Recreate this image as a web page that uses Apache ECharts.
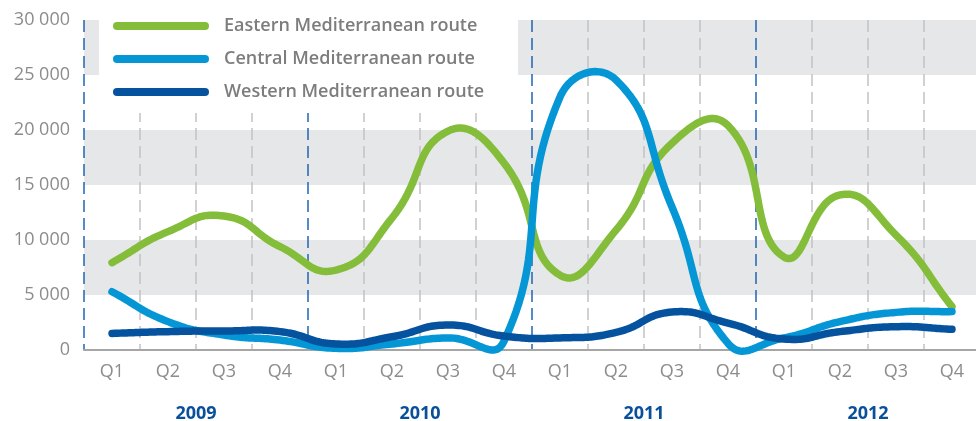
<!DOCTYPE html>
<html>
<head>
<meta charset="utf-8">
<script src="https://cdn.jsdelivr.net/npm/echarts@6/dist/echarts.min.js"></script>
<style>
html,body{margin:0;padding:0;background:#fff;}
#chart{width:976px;height:421px;}
</style>
</head>
<body>
<div id="chart"></div>
<script>
const quarters = ['Q1','Q2','Q3','Q4','Q1','Q2','Q3','Q4','Q1','Q2','Q3','Q4','Q1','Q2','Q3','Q4'];
const years = ['2009','2010','2011','2012'];
const seriesNames = ['Eastern Mediterranean route','Central Mediterranean route','Western Mediterranean route'];
const eastern = [7940, 10760, 12180, 9400, 7270, 12000, 19900, 17000, 6800, 10900, 18800, 20400, 8450, 14100, 10450, 3940];
const central = [5300, 2580, 1360, 900, 150, 550, 1100, 800, 23000, 24550, 13000, 600, 1100, 2580, 3420, 3490];
const western = [1510, 1670, 1730, 1670, 550, 1200, 2270, 1270, 1100, 1600, 3450, 2450, 1000, 1670, 2120, 1880];
const yMin = 0, yMax = 30000, yStep = 5000;

const FONT = '"Open Sans", sans-serif';
const colors = ['#84bd3a', '#0596d6', '#05529f'];
const chart = echarts.init(document.getElementById('chart'), null, {renderer: 'canvas'});

function fmt(v){ return String(v).replace(/\B(?=(\d{3})+(?!\d))/g, ' '); }

// distance-weighted cardinal spline (no clamping) through pixel points from the axes
function renderSpline(params, api){
  if (params.dataIndexInside !== 0) return null;
  const n = params.dataInsideLength;
  const P = [];
  for (let i = 0; i < n; i++) P.push(api.coord([api.value(0, i), api.value(1, i)]));
  const s = 0.5;
  const cpIn = [], cpOut = [];
  for (let i = 0; i < n; i++){
    const prev = P[Math.max(0, i - 1)], cur = P[i], next = P[Math.min(n - 1, i + 1)];
    const vx = next[0] - prev[0], vy = next[1] - prev[1];
    const dp = Math.hypot(cur[0] - prev[0], cur[1] - prev[1]);
    const dn = Math.hypot(next[0] - cur[0], next[1] - cur[1]);
    const r = (dp + dn) > 0 ? dn / (dp + dn) : 0.5;
    cpIn.push([cur[0] - vx * s * (1 - r), cur[1] - vy * s * (1 - r)]);
    cpOut.push([cur[0] + vx * s * r, cur[1] + vy * s * r]);
  }
  const pts = [P[0]];
  const steps = 28;
  for (let i = 0; i < n - 1; i++){
    const p1 = P[i], c1 = cpOut[i], c2 = cpIn[i + 1], p2 = P[i + 1];
    for (let k = 1; k <= steps; k++){
      const t = k / steps, u = 1 - t;
      const a = u*u*u, b = 3*u*u*t, c = 3*u*t*t, d = t*t*t;
      pts.push([a*p1[0] + b*c1[0] + c*c2[0] + d*p2[0], a*p1[1] + b*c1[1] + c*c2[1] + d*p2[1]]);
    }
  }
  return {
    type: 'polyline',
    shape: {points: pts, smooth: 0},
    style: {stroke: api.visual('color'), lineWidth: 7.5, fill: null, lineCap: 'round', lineJoin: 'round'}
  };
}

function splineSeries(name, data, color){
  return {
    name: name, type: 'custom', renderItem: renderSpline,
    data: data.map((v, i) => [i, v]),
    encode: {x: 0, y: 1},
    itemStyle: {color: color},
    clip: false
  };
}

chart.setOption({
  animation: false,
  color: colors,
  grid: {left: 84, top: 20, right: -4, bottom: 71, containLabel: false, outerBoundsMode: 'none'},
  legend: {
    orient: 'vertical', left: 99, top: 0,
    backgroundColor: '#fff',
    padding: [16, 14, 11, 14],
    itemGap: 13,
    itemWidth: 96, itemHeight: 8,
    icon: 'path://M4 0H92A4 4 0 0 1 92 8H4A4 4 0 0 1 4 0Z',
    textStyle: {color: '#7d7d7d', fontSize: 18, fontWeight: 600, fontFamily: FONT, lineHeight: 20, width: 280, padding: [0,0,0,10]},
    data: seriesNames
  },
  xAxis: [{
    type: 'category', data: quarters, boundaryGap: true,
    axisLine: {show: true, lineStyle: {color: '#a6a6a6', width: 2}},
    axisTick: {show: false},
    axisLabel: {interval: 0, color: '#8c8c8c', fontSize: 18, fontFamily: FONT, margin: 13},
    splitLine: {show: true, interval: 0, lineStyle: {color: ['#1f66b3','#c2c2c2','#c2c2c2','#c2c2c2'], width: 1.5, type: [12, 6]}}
  }, {
    type: 'category', data: years, boundaryGap: true, position: 'bottom', offset: 41,
    axisLine: {show: false}, axisTick: {show: false},
    axisLabel: {interval: 0, color: '#0a4f9a', fontSize: 18, fontWeight: 'bold', fontFamily: FONT, margin: 14},
    splitLine: {show: false}
  }],
  yAxis: {
    type: 'value', min: yMin, max: yMax, interval: yStep,
    axisLine: {show: false}, axisTick: {show: false},
    axisLabel: {color: '#8c8c8c', fontSize: 18, fontFamily: FONT, margin: 14, formatter: fmt},
    splitLine: {show: false},
    splitArea: {show: true, areaStyle: {color: ['rgba(0,0,0,0)', '#e6e7e8']}}
  },
  series: [
    splineSeries(seriesNames[0], eastern, colors[0]),
    splineSeries(seriesNames[1], central, colors[1]),
    splineSeries(seriesNames[2], western, colors[2])
  ]
});
</script>
</body>
</html>
